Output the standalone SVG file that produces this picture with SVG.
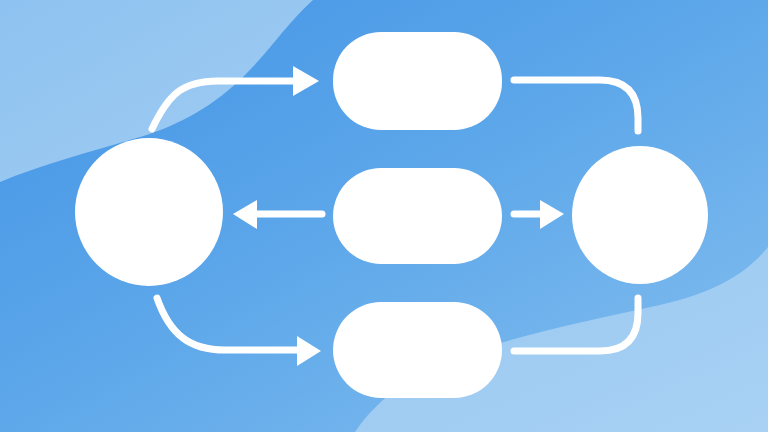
<svg xmlns="http://www.w3.org/2000/svg" width="768" height="432" viewBox="0 0 768 432">
  <defs>
    <linearGradient id="bg" x1="0" y1="0" x2="1" y2="1">
      <stop offset="0" stop-color="#4393e6"/>
      <stop offset="0.5" stop-color="#5ea8ea"/>
      <stop offset="1" stop-color="#86bfef"/>
    </linearGradient>
    <linearGradient id="lt" x1="0" y1="0" x2="1" y2="1">
      <stop offset="0" stop-color="#8ec2f0"/>
      <stop offset="1" stop-color="#a0cdf3"/>
    </linearGradient>
    <linearGradient id="lb" x1="0" y1="0" x2="1" y2="1">
      <stop offset="0" stop-color="#99c8f1"/>
      <stop offset="1" stop-color="#a8d1f4"/>
    </linearGradient>
    <marker id="ah" viewBox="0 0 10 10" refX="2" refY="5" markerWidth="3.6" markerHeight="4.2" markerUnits="strokeWidth" orient="auto">
      <path d="M0,0 L10,5 L0,10 Z" fill="#ffffff"/>
    </marker>
  </defs>
  <style>
    .node { fill: #ffffff; }
    .conn { fill: none; stroke: #ffffff; stroke-width: 7; stroke-linecap: round; stroke-linejoin: round; }
    .head { fill: #ffffff; }
  </style>
  <rect width="768" height="432" fill="url(#bg)"/>
  <path d="M0,0 L313,0 C290,20 270,50 245,75 C215,105 180,125 140,137 C90,152 40,165 0,182 Z" fill="url(#lt)"/>
  <path d="M768,247 C745,275 715,292 660,305 C600,318 540,330 470,352 C420,368 380,395 355,432 L768,432 Z" fill="url(#lb)"/>

  <g id="node-left"><circle class="node" cx="149" cy="212" r="74"/></g>
  <g id="node-right"><ellipse class="node" cx="640" cy="215" rx="68" ry="69"/></g>
  <g id="node-top"><rect class="node" x="333" y="32" width="169" height="98" rx="48" ry="48"/></g>
  <g id="node-middle"><rect class="node" x="333" y="168" width="169" height="96" rx="48" ry="48"/></g>
  <g id="node-bottom"><rect class="node" x="333" y="302" width="169" height="96" rx="48" ry="48"/></g>

  <g id="connectors">
    <path class="conn" d="M152,129 C168,95 182,81 218,81 L296,81"/>
    <path class="head" d="M293,66 L319,81 L293,96 Z"/>
    <path class="conn" d="M514,80 L600,80 Q638,80 638,118 L638,131"/>
    <path class="conn" d="M157,298 C170,335 190,350 225,350 L298,350"/>
    <path class="head" d="M297,336 L321,351 L297,366 Z"/>
    <path class="conn" d="M514,351 L600,351 Q638,351 638,313 L638,298"/>
    <path class="conn" d="M322,214 L256,214"/>
    <path class="head" d="M257,200 L233,214 L257,229 Z"/>
    <path class="conn" d="M514,214 L541,214"/>
    <path class="head" d="M540,200 L564,214 L540,229 Z"/>
  </g>
</svg>
